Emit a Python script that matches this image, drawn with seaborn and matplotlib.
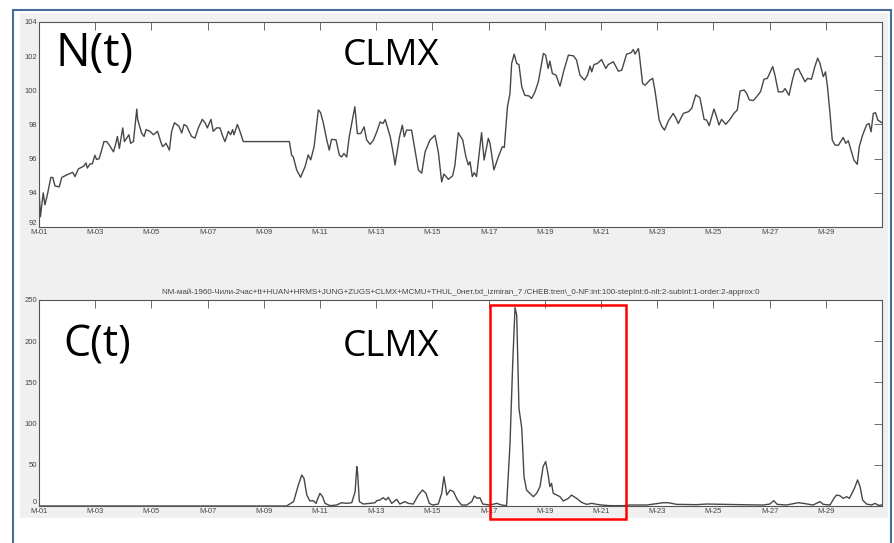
import matplotlib
matplotlib.use("Agg")
import matplotlib.pyplot as plt
import seaborn as sns
import pandas as pd
from matplotlib.patches import Rectangle

# N(t): neutron monitor count (day of May, value)
n_days = [1.00, 1.05, 1.15, 1.21, 1.30, 1.42, 1.49, 1.57, 1.72, 1.81, 1.99, 2.20, 2.28, 2.40,
          2.58, 2.67, 2.72, 2.82, 2.90, 2.99, 3.05, 3.14, 3.23, 3.31, 3.41, 3.50, 3.65, 3.72,
          3.79, 3.86, 3.98, 4.04, 4.12, 4.20, 4.26, 4.36, 4.48, 4.51, 4.65, 4.74, 4.81, 4.95,
          5.07, 5.22, 5.33, 5.40, 5.52, 5.64, 5.72, 5.82, 5.98, 6.08, 6.16, 6.26, 6.34, 6.43,
          6.55, 6.67, 6.81, 6.91, 6.99, 7.12, 7.20, 7.32, 7.44, 7.54, 7.62, 7.74, 7.82, 7.89,
          7.94, 8.06, 8.13, 8.27, 9.91, 9.99, 10.05, 10.17, 10.31, 10.47, 10.58, 10.67, 10.79,
          10.94, 11.02, 11.12, 11.24, 11.33, 11.41, 11.57, 11.69, 11.77, 11.85, 11.95, 12.04,
          12.24, 12.33, 12.45, 12.57, 12.66, 12.78, 12.90, 13.02, 13.14, 13.24, 13.32, 13.38,
          13.50, 13.63, 13.67, 13.83, 13.93, 14.00, 14.08, 14.26, 14.38, 14.50, 14.62, 14.74,
          14.91, 15.09, 15.21, 15.33, 15.41, 15.57, 15.72, 15.80, 15.92, 16.08, 16.19, 16.28,
          16.34, 16.42, 16.49, 16.57, 16.75, 16.84, 16.99, 17.05, 17.19, 17.35, 17.49, 17.56,
          17.67, 17.76, 17.82, 17.91, 18.00, 18.08, 18.18, 18.29, 18.44, 18.53, 18.65, 18.77,
          18.95, 19.03, 19.12, 19.18, 19.27, 19.40, 19.54, 19.68, 19.84, 20.02, 20.13, 20.25,
          20.41, 20.52, 20.61, 20.67, 20.75, 20.87, 21.02, 21.17, 21.26, 21.44, 21.62, 21.74,
          21.91, 22.07, 22.15, 22.21, 22.33, 22.36, 22.48, 22.57, 22.74, 22.84, 22.92, 23.07,
          23.16, 23.26, 23.40, 23.57, 23.67, 23.75, 23.93, 24.11, 24.23, 24.37, 24.52, 24.67,
          24.76, 24.85, 24.94, 25.02, 25.12, 25.20, 25.29, 25.44, 25.59, 25.73, 25.85, 25.95,
          26.09, 26.18, 26.28, 26.42, 26.56, 26.68, 26.80, 26.92, 27.11, 27.19, 27.31, 27.46,
          27.55, 27.69, 27.81, 27.91, 28.02, 28.14, 28.26, 28.35, 28.49, 28.61, 28.71, 28.79,
          28.91, 28.99, 29.06, 29.15, 29.23, 29.33, 29.45, 29.62, 29.71, 29.80, 29.88, 30.00,
          30.12, 30.19, 30.31, 30.45, 30.54, 30.61, 30.69, 30.77, 30.85, 31.00]
n_vals = [94.2, 92.6, 94.0, 93.3, 93.9, 94.9, 94.9, 94.4, 94.35, 94.9, 95.05, 95.2, 94.95, 95.4,
          95.55, 95.75, 95.45, 95.7, 95.7, 96.2, 95.95, 96.0, 96.5, 97.0, 97.0, 96.8, 96.4, 96.8,
          97.3, 96.6, 97.8, 97.0, 97.2, 97.4, 96.9, 97.0, 98.9, 98.3, 97.5, 97.3, 97.7, 97.6,
          97.4, 97.6, 97.0, 96.7, 96.9, 96.5, 97.6, 98.1, 97.9, 97.5, 98.0, 97.9, 97.6, 97.3,
          97.2, 97.8, 98.3, 98.1, 97.8, 98.3, 97.6, 97.8, 97.8, 97.3, 97.0, 97.6, 97.4, 97.7,
          97.4, 98.0, 97.7, 97.0, 97.0, 96.2, 96.1, 95.34, 94.91, 95.54, 96.22, 95.93, 96.7,
          98.85, 98.7, 98.08, 97.1, 96.5, 97.13, 97.1, 96.2, 96.1, 96.3, 96.1, 97.28,
          99.04, 97.47, 97.47, 97.86, 97.1, 96.84, 97.08, 97.57, 98.15, 98.06, 98.29, 97.96,
          97.28, 96.1, 95.63, 97.28, 97.96, 97.28, 97.67, 97.67, 96.5, 95.34, 95.15, 96.4,
          97.08, 97.37, 96.4, 94.64, 95.1, 94.79, 95.0, 95.6, 97.52, 97.09, 96.12, 95.63,
          95.82, 94.95, 95.18, 94.95, 97.52, 95.92, 97.19, 96.9, 95.34, 96.12, 96.7, 96.66,
          99.03, 99.81, 101.57, 102.12, 101.57, 101.51, 100.2, 99.71, 99.67, 99.52, 99.91, 100.5,
          102.16, 102.06, 101.28, 101.71, 100.98, 100.89, 100.24, 101.18, 102.06, 102.02, 101.77, 100.89,
          100.6, 100.89, 101.42, 101.08, 101.51, 101.57, 101.8, 101.28, 101.51, 101.67, 101.12, 101.18,
          102.12, 102.2, 102.39, 102.12, 102.45, 102.16, 100.4, 100.3, 100.6, 100.7, 100.0, 98.26,
          97.9, 97.67, 98.22, 98.65, 98.36, 98.06, 98.65, 98.75, 98.95, 99.73, 99.57, 98.3,
          98.26, 97.93, 98.46, 98.91, 98.42, 97.97, 98.3, 98.01, 98.3, 98.65, 98.85, 99.96,
          100.02, 99.83, 99.44, 99.4, 99.67, 99.93, 100.65, 100.7, 101.39, 100.89, 99.91, 99.91,
          100.1, 99.71, 100.59, 101.18, 101.28, 100.89, 100.5, 100.7, 100.65, 101.39, 101.88, 101.59,
          100.8, 101.08, 100.2, 98.65, 97.09, 96.79, 96.79, 97.24, 96.9, 97.05, 96.6, 95.92,
          95.67, 96.7, 97.38, 97.97, 98.06, 97.57, 98.65, 98.69, 98.26, 98.1]

# C(t): lower panel, same day axis
c_days = [1.00, 9.81, 10.06, 10.23, 10.35, 10.43, 10.53, 10.64, 10.76, 10.86, 10.90, 11.00,
          11.09, 11.18, 11.36, 11.59, 11.77, 11.95, 12.13, 12.25, 12.31, 12.34, 12.40, 12.54,
          12.78, 12.96, 13.02, 13.13, 13.25, 13.35, 13.43, 13.55, 13.73, 13.84, 14.02, 14.14,
          14.32, 14.50, 14.65, 14.77, 14.89, 15.01, 15.21, 15.33, 15.41, 15.47, 15.51, 15.63,
          15.75, 15.89, 16.04, 16.22, 16.40, 16.49, 16.60, 16.69, 16.79, 17.05, 17.29, 17.46,
          17.64, 17.76, 17.86, 17.94, 18.00, 18.08, 18.18, 18.26, 18.35, 18.47, 18.59, 18.71,
          18.83, 18.94, 19.03, 19.12, 19.18, 19.24, 19.30, 19.42, 19.54, 19.66, 19.84, 19.95,
          20.13, 20.31, 20.49, 20.67, 20.85, 21.02, 21.32, 21.79, 22.03, 22.63, 23.22, 23.40,
          23.69, 24.40, 24.76, 25.35, 25.95, 26.78, 27.01, 27.15, 27.27, 27.60, 28.02, 28.20,
          28.55, 28.79, 28.91, 29.15, 29.29, 29.38, 29.50, 29.62, 29.74, 29.84, 29.92, 30.02,
          30.13, 30.22, 30.31, 30.45, 30.63, 30.75, 30.87, 31.00]
c_vals = [0.0, 0.0, 5.3, 25.5, 37.6, 33.6, 13.3, 6.1, 6.5, 3.2, 7.3, 15.4,
          11.3, 3.2, 0.4, 1.2, 4.0, 3.2, 4.0, 17.4, 47.8, 39.7, 5.3, 2.4,
          3.2, 4.0, 6.5, 7.3, 10.1, 7.3, 10.5, 3.2, 8.1, 2.4, 5.3, 3.2,
          2.4, 13.3, 19.4, 15.4, 3.2, 1.2, 2.4, 15.4, 35.6, 23.5, 13.3, 19.4,
          17.4, 7.3, 1.2, 1.2, 5.3, 12.1, 9.3, 10.1, 2.4, 1.2, 3.2, 1.2,
          0.4, 74.0, 175.0, 240.7, 231.8, 118.6, 94.4, 35.6, 19.4, 15.4, 11.3, 15.4,
          23.5, 47.8, 53.9, 37.6, 23.5, 27.5, 15.4, 13.3, 11.3, 6.1, 9.3, 13.3,
          9.3, 4.4, 2.0, 3.2, 2.0, 1.2, 0.4, 0.4, 1.2, 1.2, 4.0, 4.0,
          2.0, 1.6, 2.4, 2.0, 1.6, 1.2, 2.4, 6.5, 2.0, 1.2, 4.0, 3.2,
          1.2, 5.3, 2.0, 1.2, 9.3, 13.3, 12.5, 9.3, 11.3, 9.3, 14.6, 21.5,
          31.6, 23.5, 7.3, 2.4, 1.2, 3.2, 0.8, 1.2]

tick_days = list(range(1, 30, 2))
tick_labels = [f"M-{d:02d}" for d in tick_days]
n_yticks = [92, 94, 96, 98, 100, 102, 104]
c_yticks = [0, 50, 100, 150, 200, 250]
run_title = ("NM-май-1960-Чили-2час+tt+HUAN+HRMS+JUNG+ZUGS+CLMX+MCMU+THUL_0нет.txt_izmiran_7 "
             "/CHEB:tren\\_0-NF:int:100-stepInt:6-nlt:2-subInt:1-order:2-approx:0")

sns.set_style("white")
plt.rcParams["font.family"] = ["Liberation Sans", "DejaVu Sans"]

W, H = 894, 543
fig = plt.figure(figsize=(W / 100, H / 100), dpi=100)


def fx(px):
    return px / W


def fy(py):
    return 1 - py / H


# slide frame and grey figure panel (behind the axes)
fig.patches.append(Rectangle((fx(13), fy(560)), fx(891 - 13), (560 - 10) / H, transform=fig.transFigure,
                             fill=False, edgecolor="#4a6c9b", lw=1.5, zorder=-5))
fig.patches.append(Rectangle((fx(20), fy(518)), fx(888 - 20), (518 - 13) / H, transform=fig.transFigure,
                             facecolor="#f0f0f0", edgecolor="none", zorder=-5))

ax1 = fig.add_axes([fx(39), fy(227), fx(882 - 39), (227 - 22) / H])
ax2 = fig.add_axes([fx(39), fy(506), fx(882 - 39), (506 - 300) / H])

df_n = pd.DataFrame({"day": n_days, "N": n_vals})
df_c = pd.DataFrame({"day": c_days, "C": c_vals})
sns.lineplot(data=df_n, x="day", y="N", ax=ax1, color="#474747", lw=1.0)
sns.lineplot(data=df_c, x="day", y="C", ax=ax2, color="#474747", lw=1.0)

for ax, yt in ((ax1, n_yticks), (ax2, c_yticks)):
    ax.set_facecolor("white")
    ax.set_xlim(1, 31)
    ax.set_ylim(yt[0], yt[-1])
    ax.set_xticks(tick_days)
    ax.set_xticklabels(tick_labels)
    ax.set_yticks(yt)
    ax.set_xlabel("")
    ax.set_ylabel("")
    ax.tick_params(direction="in", length=5.5, width=0.6, color="#555555",
                   top=True, right=True, labelsize=5.5, labelcolor="#444444", pad=1.5)
    # lowest y label sits just above the corner, clear of M-01
    ax.get_yticklabels()[0].set_verticalalignment("bottom")
    for sp in ax.spines.values():
        sp.set_color("#555555")
        sp.set_linewidth(0.8)

ax2.set_title(run_title, fontsize=5.75, color="#444444", pad=4)

# overlay labels
big = ["Open Sans", "DejaVu Sans"]
fig.text(fx(56), fy(66), "N(t)", fontsize=33, family=big, color="black")
fig.text(fx(343), fy(65), "CLMX", fontsize=26.5, family=big, color="black")
fig.text(fx(63), fy(357), "C(t)", fontsize=31, family=big, color="black")
fig.text(fx(343), fy(356), "CLMX", fontsize=26.5, family=big, color="black")

# highlight box around the main C(t) burst
fig.patches.append(Rectangle((fx(490), fy(519)), fx(626 - 490), (519 - 305) / H, transform=fig.transFigure,
                             fill=False, edgecolor="#ff0000", lw=1.8, zorder=10))

fig.savefig("out.png", dpi=100)
